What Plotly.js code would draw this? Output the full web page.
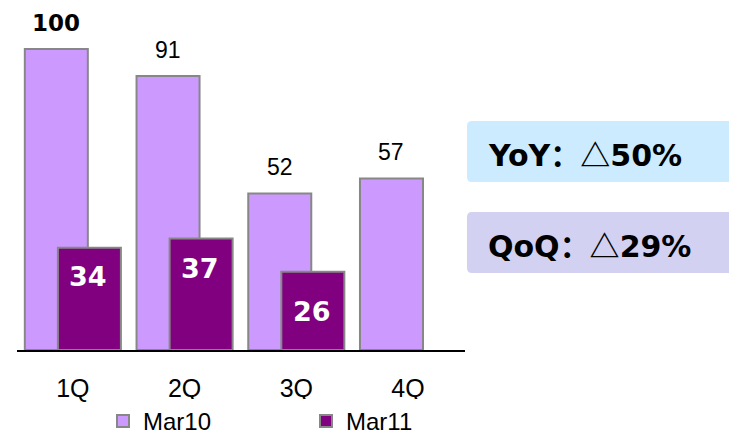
<!DOCTYPE html>
<html>
<head>
<meta charset="utf-8">
<script src="https://cdn.plot.ly/plotly-3.0.1.min.js"></script>
<style>html,body{margin:0;padding:0;background:#fff;}#chart{width:729px;height:438px;}</style>
</head>
<body>
<div id="chart"></div>
<script>
// Data
var categories = ['1Q', '2Q', '3Q', '4Q'];
var mar10 = [100, 91, 52, 57];
var mar11 = [34, 37, 26];
var seriesNames = ['Mar10', 'Mar11'];
var mar10Labels = ['<b>100</b>', '91', '52', '57'];
var mar11Labels = ['34', '37', '26'];
var yoyLabel = 'YoY', yoyValue = '50%';
var qoqLabel = 'QoQ', qoqValue = '29%';

// Style / layout constants
var W = 729, H = 438;
var M = {l: 17, r: 264, t: 20, b: 88, autoexpand: false};
var barWidth = 0.564;
var offs10 = -0.43, offs11 = -0.134;
var mar11Shift = [-29, -30, -40];
var baseFont = 'Liberation Sans, Arial, sans-serif';
var boldFont = 'DejaVu Sans, Noto Sans CJK SC, sans-serif';
var cjkSpan = '<span style="font-family:\'Noto Sans CJK SC\'">：△</span>';

function px2x(px) { return (px - M.l) / (W - M.l - M.r); }
function px2y(py) { return (H - M.b - py) / (H - M.t - M.b); }
function roundRect(x0, y0, x1, y1, r) {
  var P = function (x, y) { return px2x(x) + ',' + px2y(y); };
  return 'M' + P(x0 + r, y0) + ' L' + P(x1 - r, y0) + ' Q' + P(x1, y0) + ' ' + P(x1, y0 + r) +
    ' L' + P(x1, y1 - r) + ' Q' + P(x1, y1) + ' ' + P(x1 - r, y1) +
    ' L' + P(x0 + r, y1) + ' Q' + P(x0, y1) + ' ' + P(x0, y1 - r) +
    ' L' + P(x0, y0 + r) + ' Q' + P(x0, y0) + ' ' + P(x0 + r, y0) + ' Z';
}

var idx10 = categories.map(function (c, i) { return i; });
var idx11 = mar11.map(function (v, i) { return i; });

var traces = [
  {
    type: 'bar', name: seriesNames[0], x: idx10, y: mar10,
    width: barWidth, offset: offs10,
    marker: {color: '#CC99FF', line: {color: '#878787', width: 2}},
    hoverinfo: 'none'
  },
  {
    type: 'bar', name: seriesNames[1], x: idx11, y: mar11,
    width: barWidth, offset: offs11,
    marker: {color: '#800080', line: {color: '#878787', width: 2}},
    hoverinfo: 'none'
  }
];

var annotations = [];
mar10.forEach(function (v, i) {
  annotations.push({
    x: i + offs10 + barWidth / 2, y: v, xref: 'x', yref: 'y',
    text: mar10Labels[i], showarrow: false, yanchor: 'middle', yshift: 26,
    font: {family: i === 0 ? boldFont : baseFont, size: 23, color: '#000'}
  });
});
mar11.forEach(function (v, i) {
  annotations.push({
    x: i + offs11 + barWidth / 2, y: v, xref: 'x', yref: 'y',
    text: '<b>' + mar11Labels[i] + '</b>', showarrow: false, yanchor: 'middle', yshift: mar11Shift[i], xshift: -1,
    font: {family: boldFont, size: 27, color: '#fff'}
  });
});
annotations.push({
  x: px2x(486), y: px2y(153), xref: 'paper', yref: 'paper', xanchor: 'left', yanchor: 'middle',
  text: '<b>' + yoyLabel + cjkSpan + yoyValue + '</b>', showarrow: false,
  font: {family: boldFont, size: 30, color: '#000'}
});
annotations.push({
  x: px2x(486), y: px2y(244), xref: 'paper', yref: 'paper', xanchor: 'left', yanchor: 'middle',
  text: '<b>' + qoqLabel + cjkSpan + qoqValue + '</b>', showarrow: false,
  font: {family: boldFont, size: 30, color: '#000'}
});

var shapes = [
  {type: 'path', xref: 'paper', yref: 'paper', path: roundRect(467, 121, 740, 182, 5),
   fillcolor: '#CCEBFF', line: {width: 0}, layer: 'below'},
  {type: 'path', xref: 'paper', yref: 'paper', path: roundRect(467, 212, 740, 273, 5),
   fillcolor: '#D3D1F2', line: {width: 0}, layer: 'below'}
];

var layout = {
  width: W, height: H,
  margin: M,
  paper_bgcolor: '#fff', plot_bgcolor: '#fff',
  barmode: 'overlay',
  showlegend: true,
  legend: {
    orientation: 'h', x: px2x(103), xanchor: 'left', y: px2y(399), yanchor: 'top',
    font: {family: baseFont, size: 24, color: '#000'},
    entrywidth: 158, entrywidthmode: 'pixels', traceorder: 'normal'
  },
  xaxis: {
    type: 'linear', range: [-0.5, 3.51], tickmode: 'array',
    tickvals: idx10, ticktext: categories,
    showline: true, linecolor: '#000', linewidth: 1.5,
    showgrid: false, zeroline: false, ticks: '', ticklabelstandoff: 15,
    tickfont: {family: baseFont, size: 25, color: '#000'}
  },
  yaxis: {
    range: [0, 109.6], showline: false, showgrid: false, zeroline: false,
    showticklabels: false, ticks: ''
  },
  annotations: annotations,
  shapes: shapes
};

Plotly.newPlot('chart', traces, layout, {displayModeBar: false, staticPlot: true});
</script>
</body>
</html>
